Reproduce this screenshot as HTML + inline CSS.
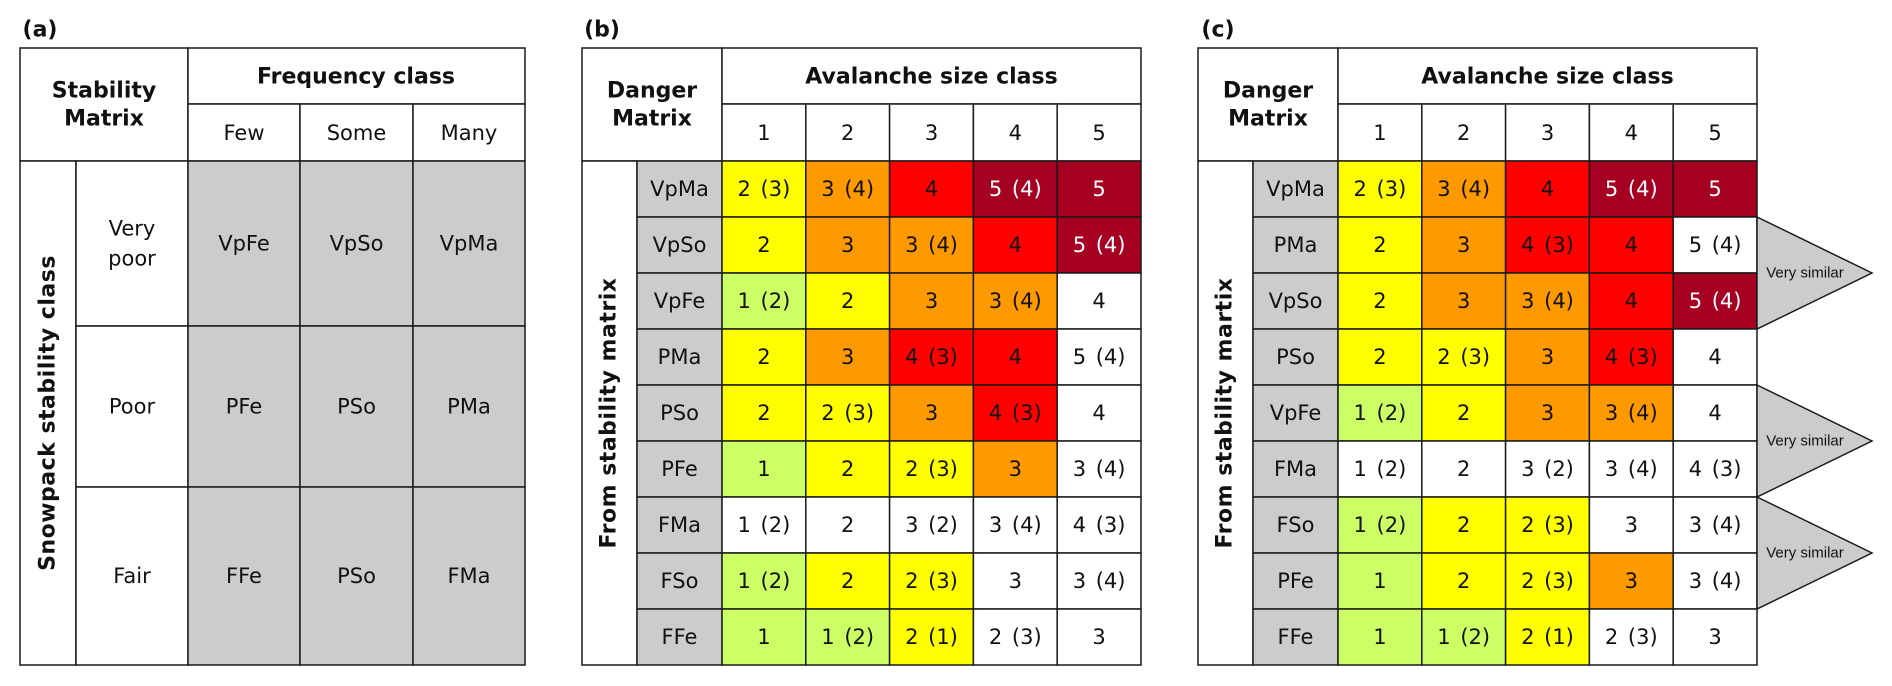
<!DOCTYPE html>
<html><head><meta charset="utf-8"><style>
html,body{margin:0;padding:0;background:#fff;}
svg{display:block;}
text{font-family:"DejaVu Sans","Liberation Sans",sans-serif;}
</style></head><body>
<svg id="fig" width="1892" height="686" viewBox="0 0 1892 686" xmlns="http://www.w3.org/2000/svg"></svg>
<script>
// ---- data ----
const sizeClasses = ["1","2","3","4","5"];
const freqClasses = ["Few","Some","Many"];
const stabClasses = ["Very|poor","Poor","Fair"];
const stabCells = [["VpFe","VpSo","VpMa"],["PFe","PSo","PMa"],["FFe","PSo","FMa"]];
const rowsB = ["VpMa","VpSo","VpFe","PMa","PSo","PFe","FMa","FSo","FFe"];
const valsB = [
 ["2 (3)","3 (4)","4","5 (4)","5"],
 ["2","3","3 (4)","4","5 (4)"],
 ["1 (2)","2","3","3 (4)","4"],
 ["2","3","4 (3)","4","5 (4)"],
 ["2","2 (3)","3","4 (3)","4"],
 ["1","2","2 (3)","3","3 (4)"],
 ["1 (2)","2","3 (2)","3 (4)","4 (3)"],
 ["1 (2)","2","2 (3)","3","3 (4)"],
 ["1","1 (2)","2 (1)","2 (3)","3"]];
const colsB = ["YORDD","YOORD","GYOOW","YORRW","YYORW","GYYOW","WWWWW","GYYWW","GGYWW"];
const rowsC = ["VpMa","PMa","VpSo","PSo","VpFe","FMa","FSo","PFe","FFe"];
const valsC = [
 ["2 (3)","3 (4)","4","5 (4)","5"],
 ["2","3","4 (3)","4","5 (4)"],
 ["2","3","3 (4)","4","5 (4)"],
 ["2","2 (3)","3","4 (3)","4"],
 ["1 (2)","2","3","3 (4)","4"],
 ["1 (2)","2","3 (2)","3 (4)","4 (3)"],
 ["1 (2)","2","2 (3)","3","3 (4)"],
 ["1","2","2 (3)","3","3 (4)"],
 ["1","1 (2)","2 (1)","2 (3)","3"]];
const colsC = ["YORDD","YORRW","YOORD","YYORW","GYOOW","WWWWW","GYYWW","GYYOW","GGYWW"];
const similarGroups = [[1,2],[4,5],[6,7]];

const palette = {Y:"#ffff00",O:"#ff9900",R:"#ff0000",D:"#a50021",G:"#ccff66",W:"#ffffff"};
const NS="http://www.w3.org/2000/svg";
const svg=document.getElementById('fig');
const LINE="#1a1a1a";
const HS=22, CS=21;
function mk(tag,attrs,parent){const e=document.createElementNS(NS,tag);for(const k in attrs)e.setAttribute(k,attrs[k]);(parent||svg).appendChild(e);return e;}
function rect(x,y,w,h,fill,name,parent){const r=mk('rect',{x:x,y:y,width:w,height:h,fill:fill,stroke:LINE,'stroke-width':1.5},parent);


return r;}
function txt(x,y,s,opts,name,parent){const t=mk('text',{x:x,y:y,'text-anchor':'middle','dominant-baseline':'central','font-size':opts.size||20,'font-weight':opts.bold?'bold':'normal',fill:opts.fill||'#111'},parent);
if(opts.rot)t.setAttribute('transform','rotate(-90 '+x+' '+y+')');
let st='';
if(opts.family)st+='font-family:'+opts.family+';';
if(opts.ls)st+='letter-spacing:'+opts.ls+'px;';
if(opts.ws)st+='word-spacing:'+opts.ws+'px;';
if(st)t.setAttribute('style',st);
t.textContent=s;


return t;}
const yTop=48,yMid=104,yHead=161,rowH=56,yBot=665;

// ---- panel a ----
(function(){
 const g=mk('g',{});
 
 
 txt(40,30,"(a)",{bold:true,size:22},'panel-a-label',g);
 const xs=[20,76,188,300,413,525];
 rect(20,yTop,168,yHead-yTop,'#fff','stability-matrix-corner',g);
 txt(104,91,"Stability",{bold:true,size:HS},'corner-title-line1',g);
 txt(104,119,"Matrix",{bold:true,size:HS},'corner-title-line2',g);
 rect(188,yTop,337,yMid-yTop,'#fff','frequency-class-header',g);
 txt(356,77,"Frequency class",{bold:true,size:HS},'frequency-class-title',g);
 freqClasses.forEach((f,i)=>{rect(xs[i+2],yMid,xs[i+3]-xs[i+2],yHead-yMid,'#fff','freq-col-header',g);
  txt((xs[i+2]+xs[i+3])/2,133,f,{size:CS},'freq-label-'+f.toLowerCase(),g);});
 const ys=[161,326,487,665];
 rect(20,yHead,56,yBot-yHead,'#fff','stability-axis-cell',g);
 txt(48,(yHead+yBot)/2,"Snowpack stability class",{bold:true,size:22,rot:true,ls:0.5},'y-axis-title',g);
 stabClasses.forEach((s,r)=>{
  rect(76,ys[r],112,ys[r+1]-ys[r],'#fff','stability-row-header',g);
  const parts=s.split('|');const cy=(ys[r]+ys[r+1])/2;
  if(parts.length===2){txt(132,cy-15,parts[0],{size:CS},'stability-label',g);txt(132,cy+15,parts[1],{size:CS},'stability-label',g);}
  else txt(132,cy,s,{size:CS},'stability-label',g);
  stabCells[r].forEach((c,i)=>{rect(xs[i+2],ys[r],xs[i+3]-xs[i+2],ys[r+1]-ys[r],'#cccccc','stability-cell',g);
   txt((xs[i+2]+xs[i+3])/2,cy,c,{size:CS},'stability-cell-label',g);});
 });
})();

// ---- danger matrix panels ----
function dangerPanel(x0,label,rows,vals,cols,axisTitle,name){
 const g=mk('g',{});
 
 
 txt(x0+20,30,label,{bold:true,size:22},'panel-label',g);
 const xL=x0+55, xD=x0+140, cw=83.8;
 rect(x0,yTop,xD-x0,yHead-yTop,'#fff','danger-matrix-corner',g);
 txt((x0+xD)/2,91,"Danger",{bold:true,size:HS},'corner-title-line1',g);
 txt((x0+xD)/2,119,"Matrix",{bold:true,size:HS},'corner-title-line2',g);
 rect(xD,yTop,cw*5,yMid-yTop,'#fff','size-class-header',g);
 txt(xD+cw*2.5,77,"Avalanche size class",{bold:true,size:HS},'size-class-title',g);
 sizeClasses.forEach((s,i)=>{rect(xD+cw*i,yMid,cw,yHead-yMid,'#fff','size-col-header',g);
  txt(xD+cw*(i+0.5),133,s,{size:CS},'size-label-'+s,g);});
 rect(x0,yHead,xL-x0,yBot-yHead,'#fff','axis-cell',g);
 txt(x0+27,(yHead+yBot)/2,axisTitle,{bold:true,size:22,rot:true,ls:0.5},'y-axis-title',g);
 rows.forEach((r,ri)=>{
  const y=yHead+rowH*ri;
  rect(xL,y,xD-xL,rowH,'#cccccc','row-header',g);
  txt((xL+xD)/2,y+rowH/2,r,{size:CS},'row-label-'+r.toLowerCase(),g);
  vals[ri].forEach((v,ci)=>{
   const c=cols[ri][ci];
   rect(xD+cw*ci,y,cw,rowH,palette[c],'danger-cell',g);
   txt(xD+cw*(ci+0.5),y+rowH/2,v,{size:CS,fill:c==='D'?'#fff':'#111',ws:3},'danger-value',g);
  });
 });
 return {g:g,right:xD+cw*5};
}
dangerPanel(582,"(b)",rowsB,valsB,colsB,"From stability matrix",'panel-b-danger-matrix');
const pc=dangerPanel(1198,"(c)",rowsC,valsC,colsC,"From stability martix",'panel-c-danger-matrix');
similarGroups.forEach(gr=>{
 const y1=yHead+rowH*gr[0], y2=yHead+rowH*(gr[1]+1), ym=(y1+y2)/2, x=pc.right;
 const p=mk('polygon',{points:x+','+y1+' 1872,'+ym+' '+x+','+y2,fill:'#cccccc',stroke:LINE,'stroke-width':1.5},pc.g);
 
 
 txt(1805,ym,"Very similar",{size:15,family:'"Liberation Sans",sans-serif'},'very-similar-label',pc.g);
});
</script>
</body></html>
